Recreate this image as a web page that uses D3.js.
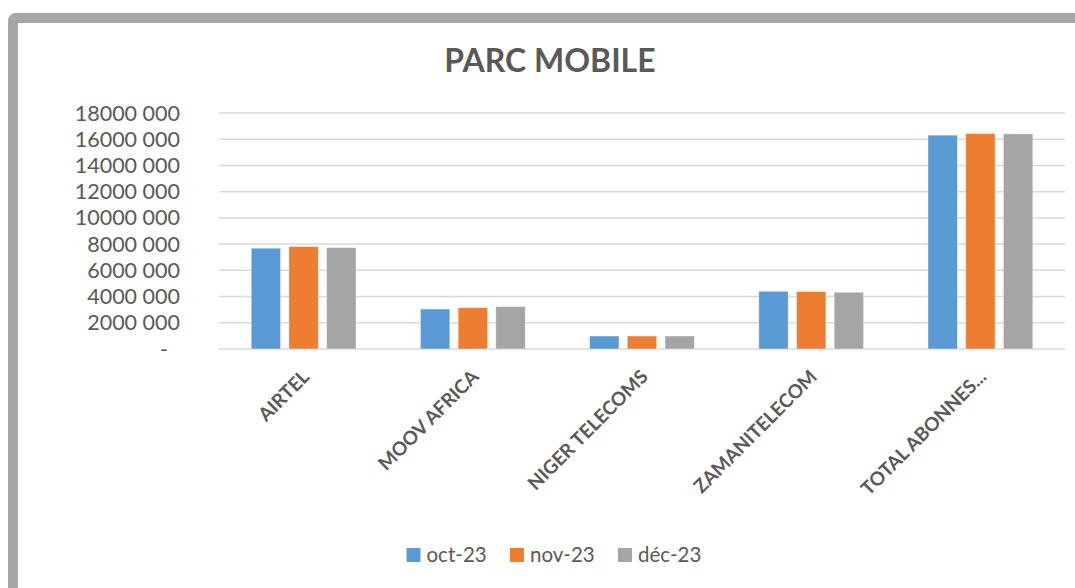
<!DOCTYPE html>
<html>
<head>
<meta charset="utf-8">
<script src="https://cdn.jsdelivr.net/npm/d3@7"></script>
<style>
  html,body{margin:0;padding:0;background:#fff;overflow:hidden;}
  svg{display:block;font-family:'Lato','Open Sans',sans-serif;}
</style>
</head>
<body>
<div id="chart"></div>
<script>
// data
const categories = ['AIRTEL','MOOV AFRICA','NIGER TELECOMS','ZAMANITELECOM','TOTAL ABONNES...'];
const seriesNames = ['oct-23','nov-23','déc-23'];
const oct23 = [7690000, 3050000, 990000, 4400000, 16310000];
const nov23 = [7810000, 3150000, 990000, 4380000, 16430000];
const dec23 = [7730000, 3230000, 990000, 4330000, 16410000];
const yTicks = [0, 2000000, 4000000, 6000000, 8000000, 10000000, 12000000, 14000000, 16000000, 18000000];
const colors = ['#5b9bd5','#ed7d31','#a5a5a5'];

const W=1075, H=588;
const TXT='#595959';
const svg=d3.select('#chart').append('svg').attr('width',W).attr('height',H);

// outer frame
svg.append('rect').attr('x',13).attr('y',18).attr('width',1100).attr('height',620)
  .attr('rx',3).attr('fill','#fff').attr('stroke','#a6a6a6').attr('stroke-width',10);

// title
svg.append('text').attr('x',550).attr('y',72).attr('text-anchor','middle')
  .attr('font-size',32).attr('font-weight',700).attr('fill',TXT).text('PARC MOBILE');

const x=d3.scaleBand().domain(categories).range([219,1065]).paddingInner(0).paddingOuter(0);
const xs=d3.scaleBand().domain(seriesNames).range([0,113.1]).paddingInner(0.22).paddingOuter(0.11);
const y=d3.scaleLinear().domain([0,18000000]).range([349,113]);

// gridlines
svg.append('g').selectAll('line').data(yTicks).join('line')
  .attr('x1',219).attr('x2',1065).attr('y1',d=>y(d)).attr('y2',d=>y(d))
  .attr('stroke','#d9d9d9').attr('stroke-width',1.5);

// y axis labels
const fmtY=d=>d===0?'-':d3.format(',')(d).replace(/,(\d{3})$/,' $1').replace(/,/g,'');
svg.append('g').selectAll('text').data(yTicks).join('text')
  .attr('x',d=>d===0?168:180).attr('y',d=>y(d)).attr('dy','0.35em').attr('text-anchor','end')
  .attr('font-size',21.5).attr('fill',TXT).text(fmtY);

// bars
const series=[oct23,nov23,dec23];
const rows=categories.map((c,i)=>({cat:c, vals:series.map((s,j)=>({name:seriesNames[j], v:s[i], c:colors[j]}))}));
const grp=svg.append('g').selectAll('g').data(rows).join('g')
  .attr('transform',d=>`translate(${x(d.cat)+x.bandwidth()/2-56.55},0)`);
grp.selectAll('rect').data(d=>d.vals).join('rect')
  .attr('x',d=>xs(d.name)).attr('width',xs.bandwidth())
  .attr('y',d=>y(d.v)).attr('height',d=>y(0)-y(d.v))
  .attr('fill',d=>d.c).attr('stroke','#fff').attr('stroke-opacity',0.5).attr('stroke-width',0.8);

// category labels, rotated
svg.append('g').selectAll('text').data(categories).join('text')
  .attr('transform',d=>`translate(${x(d)+x.bandwidth()/2+7},${378}) rotate(-45)`)
  .attr('text-anchor','end').attr('font-size',19).attr('font-weight',700).attr('fill',TXT)
  .text(d=>d);

// legend
const legX=[406.5,510,618];
const leg=svg.append('g').selectAll('g').data(seriesNames).join('g')
  .attr('transform',(d,i)=>`translate(${legX[i]},548)`);
leg.append('rect').attr('width',14).attr('height',14).attr('fill',(d,i)=>colors[i]);
leg.append('text').attr('x',20).attr('y',7).attr('dy','0.35em')
  .attr('font-size',20.5).attr('fill',TXT).text(d=>d);
</script>
</body>
</html>
